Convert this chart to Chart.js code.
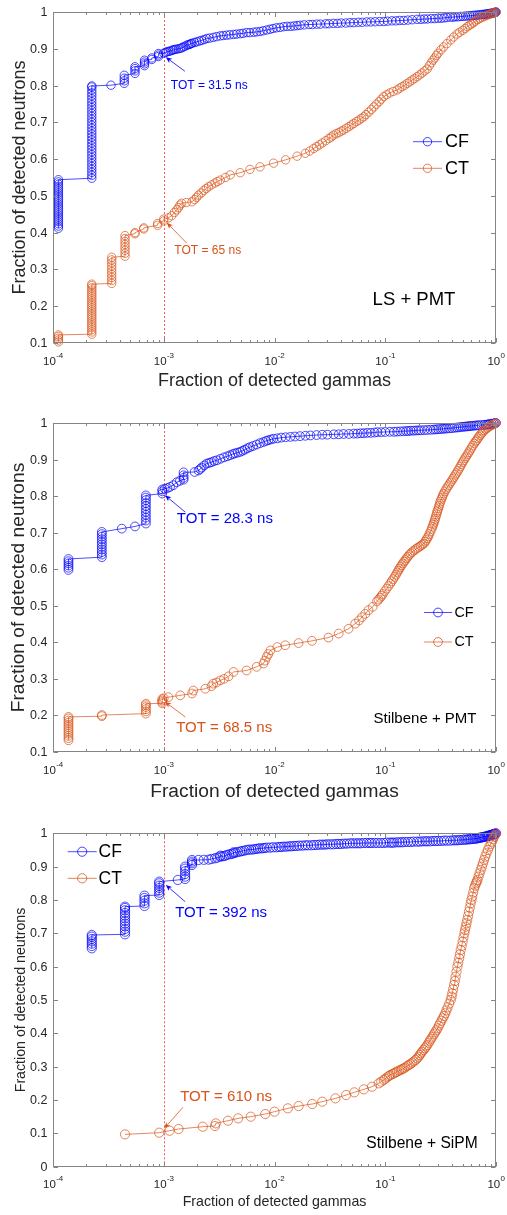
<!DOCTYPE html>
<html>
<head>
<meta charset="utf-8">
<script src="https://cdn.jsdelivr.net/npm/chart.js@4/dist/chart.umd.min.js"></script>
<style>
  html, body { margin: 0; padding: 0; background: #ffffff; }
  #wrap { position: relative; width: 507px; height: 1215px; overflow: hidden; background: #fff; }
  canvas { position: absolute; left: 0; }
</style>
</head>
<body>
<div id="wrap">
  <canvas id="c1" width="507" height="400" style="top:0px"></canvas>
  <canvas id="c2" width="507" height="410" style="top:400px"></canvas>
  <canvas id="c3" width="507" height="405" style="top:810px"></canvas>
</div>
<script>
// ---------------- DATA ----------------
const xTickExps = [-4, -3, -2, -1, 0];
const yTicksA = [0.1, 0.2, 0.3, 0.4, 0.5, 0.6, 0.7, 0.8, 0.9, 1];
const yTickLabelsA = ['0.1', '0.2', '0.3', '0.4', '0.5', '0.6', '0.7', '0.8', '0.9', '1'];
const yTicksC = [0, 0.1, 0.2, 0.3, 0.4, 0.5, 0.6, 0.7, 0.8, 0.9, 1];
const yTickLabelsC = ['0', '0.1', '0.2', '0.3', '0.4', '0.5', '0.6', '0.7', '0.8', '0.9', '1'];
const seriesNames = ['CF', 'CT'];
const panelTags = ['LS + PMT', 'Stilbene + PMT', 'Stilbene + SiPM'];
const totLabels = [['TOT = 31.5 ns', 'TOT = 65 ns'], ['TOT = 28.3 ns', 'TOT = 68.5 ns'], ['TOT = 392 ns', 'TOT = 610 ns']];
const markX = 1e-3;

// Panel 1: LS + PMT   [fraction of gammas, fraction of neutrons]
const lsCF = [
[1.12e-4,0.412],[1.12e-4,0.418],[1.12e-4,0.424],[1.12e-4,0.430],[1.12e-4,0.436],[1.12e-4,0.442],[1.12e-4,0.448],[1.12e-4,0.454],[1.12e-4,0.460],[1.12e-4,0.466],[1.12e-4,0.472],[1.12e-4,0.478],[1.12e-4,0.484],[1.12e-4,0.490],[1.12e-4,0.496],[1.12e-4,0.502],[1.12e-4,0.508],[1.12e-4,0.514],[1.12e-4,0.520],[1.12e-4,0.526],[1.12e-4,0.532],[1.12e-4,0.538],[1.12e-4,0.544],
[2.24e-4,0.548],[2.24e-4,0.556],[2.24e-4,0.564],[2.24e-4,0.572],[2.24e-4,0.580],[2.24e-4,0.588],[2.24e-4,0.596],[2.24e-4,0.604],[2.24e-4,0.612],[2.24e-4,0.620],[2.24e-4,0.628],[2.24e-4,0.636],[2.24e-4,0.644],[2.24e-4,0.652],[2.24e-4,0.660],[2.24e-4,0.668],[2.24e-4,0.676],[2.24e-4,0.684],[2.24e-4,0.692],[2.24e-4,0.700],[2.24e-4,0.708],[2.24e-4,0.716],[2.24e-4,0.724],[2.24e-4,0.732],[2.24e-4,0.740],[2.24e-4,0.748],[2.24e-4,0.756],[2.24e-4,0.764],[2.24e-4,0.772],[2.24e-4,0.780],[2.24e-4,0.788],[2.24e-4,0.796],[2.24e-4,0.799],
[3.34e-4,0.801],
[4.4e-4,0.806],[4.4e-4,0.813],[4.4e-4,0.820],[4.4e-4,0.828],
[5.5e-4,0.833],[5.5e-4,0.840],[5.5e-4,0.846],[5.5e-4,0.851],
[6.7e-4,0.854],[6.7e-4,0.859],[6.7e-4,0.864],[6.7e-4,0.869],
[7.8e-4,0.871],[7.8e-4,0.875],
[8.96e-4,0.879],[8.96e-4,0.883],[8.96e-4,0.887],
[1.0e-3,0.888],[1.04e-3,0.890],[1.07e-3,0.892],[1.11e-3,0.893],[1.15e-3,0.894],[1.19e-3,0.896],[1.22e-3,0.897],[1.26e-3,0.898],[1.3e-3,0.899],[1.36e-3,0.900],[1.41e-3,0.901],[1.46e-3,0.903],[1.5e-3,0.905],[1.56e-3,0.907],[1.62e-3,0.910],[1.67e-3,0.911],[1.72e-3,0.912],[1.76e-3,0.914],[1.8e-3,0.915],[1.9e-3,0.917],[1.99e-3,0.919],[2.1e-3,0.921],[2.2e-3,0.923],[2.32e-3,0.925],[2.45e-3,0.928],[2.6e-3,0.929],[2.8e-3,0.931],[3.0e-3,0.933],[3.24e-3,0.935],[3.45e-3,0.936],[3.7e-3,0.937],[3.95e-3,0.938],[4.27e-3,0.939],[4.55e-3,0.940],[4.9e-3,0.941],[5.2e-3,0.942],[5.6e-3,0.944],[6.0e-3,0.944],[6.5e-3,0.945],[6.9e-3,0.946],[7.4e-3,0.947],[7.9e-3,0.949],[8.5e-3,0.951],[9.1e-3,0.953],[9.7e-3,0.955],[0.0104,0.957],[0.0112,0.958],[0.0121,0.960],[0.013,0.961],[0.014,0.961],[0.015,0.962],[0.016,0.963],[0.017,0.964],[0.0185,0.965],[0.0205,0.966],[0.022,0.966],[0.0241,0.967],[0.026,0.967],[0.029,0.968],[0.031,0.968],[0.034,0.969],[0.037,0.969],[0.040,0.970],[0.044,0.970],[0.048,0.971],[0.052,0.971],[0.057,0.972],[0.062,0.972],[0.068,0.973],[0.074,0.973],[0.081,0.9735],[0.089,0.974],[0.0973,0.974],[0.105,0.975],[0.115,0.976],[0.125,0.976],[0.135,0.977],[0.147,0.977],[0.16,0.978],[0.175,0.979],[0.194,0.980],[0.21,0.980],[0.225,0.981],[0.24,0.981],[0.26,0.982],[0.28,0.982],[0.30,0.983],[0.32,0.983],[0.34,0.984],[0.36,0.985],[0.387,0.986],[0.41,0.986],[0.43,0.987],[0.455,0.987],[0.48,0.988],[0.505,0.988],[0.53,0.989],[0.555,0.989],[0.58,0.990],[0.605,0.990],[0.63,0.991],[0.655,0.991],[0.68,0.992],[0.705,0.992],[0.73,0.993],[0.755,0.993],[0.78,0.994],[0.805,0.994],[0.83,0.995],[0.85,0.995],[0.87,0.996],[0.89,0.996],[0.91,0.997],[0.93,0.997],[0.95,0.998],[0.965,0.998],[0.98,0.999],[0.99,0.999],[1.0,1.0]
];
const lsCT = [
[1.12e-4,0.103],[1.12e-4,0.108],[1.12e-4,0.113],[1.12e-4,0.118],[1.12e-4,0.122],
[2.24e-4,0.124],[2.24e-4,0.130],[2.24e-4,0.136],[2.24e-4,0.142],[2.24e-4,0.148],[2.24e-4,0.154],[2.24e-4,0.160],[2.24e-4,0.166],[2.24e-4,0.172],[2.24e-4,0.178],[2.24e-4,0.184],[2.24e-4,0.190],[2.24e-4,0.196],[2.24e-4,0.202],[2.24e-4,0.208],[2.24e-4,0.214],[2.24e-4,0.220],[2.24e-4,0.226],[2.24e-4,0.232],[2.24e-4,0.238],[2.24e-4,0.244],[2.24e-4,0.250],[2.24e-4,0.256],[2.24e-4,0.260],
[3.39e-4,0.262],[3.39e-4,0.270],[3.39e-4,0.278],[3.39e-4,0.286],[3.39e-4,0.294],[3.39e-4,0.302],[3.39e-4,0.310],[3.39e-4,0.318],[3.39e-4,0.326],[3.39e-4,0.333],
[4.47e-4,0.336],[4.47e-4,0.344],[4.47e-4,0.352],[4.47e-4,0.360],[4.47e-4,0.368],[4.47e-4,0.376],[4.47e-4,0.384],[4.47e-4,0.392],
[5.5e-4,0.397],[5.5e-4,0.400],[6.6e-4,0.410],[6.6e-4,0.413],[8.8e-4,0.420],[8.8e-4,0.425],[1.0e-3,0.432],[1.0e-3,0.437],[1.1e-3,0.440],
[1.18e-3,0.446],[1.25e-3,0.455],[1.31e-3,0.462],[1.36e-3,0.468],[1.4e-3,0.475],[1.45e-3,0.480],[1.6e-3,0.482],[1.8e-3,0.484],[1.9e-3,0.490],[1.98e-3,0.496],[2.06e-3,0.502],[2.18e-3,0.508],[2.3e-3,0.515],[2.42e-3,0.520],[2.54e-3,0.525],[2.7e-3,0.530],[2.9e-3,0.535],[3.05e-3,0.539],[3.24e-3,0.543],[3.6e-3,0.550],[3.98e-3,0.557],[4.9e-3,0.563],[6.0e-3,0.572],[7.4e-3,0.579],[9.8e-3,0.589],[0.0126,0.598],[0.016,0.608],[0.019,0.616],[0.0208,0.622],[0.0226,0.629],[0.024,0.634],[0.0255,0.639],[0.027,0.644],[0.029,0.650],[0.031,0.656],[0.0325,0.660],[0.034,0.665],[0.036,0.669],[0.038,0.672],[0.040,0.676],[0.042,0.679],[0.0445,0.684],[0.047,0.688],[0.0495,0.693],[0.052,0.697],[0.055,0.702],[0.058,0.706],[0.061,0.711],[0.064,0.715],[0.067,0.721],[0.071,0.728],[0.075,0.735],[0.079,0.742],[0.083,0.749],[0.088,0.756],[0.092,0.763],[0.097,0.770],[0.103,0.775],[0.11,0.780],[0.118,0.784],[0.128,0.788],[0.135,0.793],[0.142,0.797],[0.15,0.801],[0.158,0.806],[0.166,0.810],[0.175,0.815],[0.184,0.819],[0.194,0.824],[0.204,0.829],[0.215,0.834],[0.227,0.840],[0.239,0.845],[0.25,0.854],[0.26,0.862],[0.27,0.869],[0.28,0.875],[0.29,0.882],[0.30,0.888],[0.318,0.897],[0.337,0.905],[0.36,0.914],[0.39,0.924],[0.415,0.932],[0.445,0.940],[0.47,0.945],[0.50,0.950],[0.525,0.955],[0.55,0.960],[0.575,0.964],[0.60,0.967],[0.625,0.971],[0.65,0.975],[0.68,0.979],[0.71,0.982],[0.745,0.985],[0.78,0.988],[0.81,0.990],[0.84,0.992],[0.87,0.994],[0.90,0.995],[0.925,0.997],[0.95,0.998],[0.975,0.999],[1.0,1.0]
];

// Panel 2: Stilbene + PMT
const spCF = [
[1.38e-4,0.598],[1.38e-4,0.604],[1.38e-4,0.610],[1.38e-4,0.616],[1.38e-4,0.622],[1.38e-4,0.628],
[2.76e-4,0.633],[2.76e-4,0.640],[2.76e-4,0.647],[2.76e-4,0.654],[2.76e-4,0.661],[2.76e-4,0.668],[2.76e-4,0.675],[2.76e-4,0.682],[2.76e-4,0.689],[2.76e-4,0.696],[2.76e-4,0.702],
[4.18e-4,0.711],[5.5e-4,0.717],
[6.9e-4,0.725],[6.9e-4,0.733],[6.9e-4,0.741],[6.9e-4,0.749],[6.9e-4,0.757],[6.9e-4,0.765],[6.9e-4,0.773],[6.9e-4,0.781],[6.9e-4,0.789],[6.9e-4,0.796],[6.9e-4,0.802],
[9.7e-4,0.807],[9.7e-4,0.813],[9.7e-4,0.818],[1.02e-3,0.820],[1.08e-3,0.822],[1.14e-3,0.825],[1.22e-3,0.830],[1.31e-3,0.838],[1.4e-3,0.842],
[1.51e-3,0.845],[1.51e-3,0.850],[1.51e-3,0.857],[1.51e-3,0.865],[1.9e-3,0.866],[2.06e-3,0.870],[2.13e-3,0.874],[2.2e-3,0.878],[2.32e-3,0.884],[2.45e-3,0.889],[2.58e-3,0.891],[2.7e-3,0.893],[2.85e-3,0.896],[3.02e-3,0.898],[3.25e-3,0.902],[3.5e-3,0.906],[3.75e-3,0.909],[3.98e-3,0.912],[4.2e-3,0.915],[4.4e-3,0.917],[4.65e-3,0.919],[4.9e-3,0.921],[5.15e-3,0.924],[5.4e-3,0.927],[5.7e-3,0.931],[6.0e-3,0.934],[6.4e-3,0.937],[6.9e-3,0.941],[7.4e-3,0.945],[7.95e-3,0.948],[8.4e-3,0.951],[8.8e-3,0.953],[9.3e-3,0.955],[9.8e-3,0.957],[0.0106,0.958],[0.0115,0.960],[0.0126,0.961],[0.0139,0.962],[0.0153,0.963],[0.017,0.964],[0.019,0.965],[0.0211,0.966],[0.024,0.967],[0.027,0.968],[0.030,0.968],[0.0343,0.969],[0.038,0.969],[0.042,0.970],[0.047,0.970],[0.052,0.971],[0.056,0.971],[0.06,0.972],[0.064,0.972],[0.0687,0.973],[0.074,0.973],[0.08,0.974],[0.085,0.975],[0.092,0.975],[0.10,0.9755],[0.11,0.976],[0.12,0.976],[0.128,0.9765],[0.137,0.977],[0.146,0.9775],[0.155,0.978],[0.162,0.978],[0.17,0.979],[0.18,0.979],[0.19,0.9795],[0.20,0.980],[0.21,0.980],[0.225,0.9805],[0.24,0.981],[0.257,0.9815],[0.274,0.982],[0.287,0.9825],[0.30,0.983],[0.315,0.9835],[0.33,0.984],[0.345,0.9845],[0.36,0.985],[0.38,0.9855],[0.40,0.986],[0.42,0.987],[0.44,0.9875],[0.46,0.988],[0.48,0.989],[0.50,0.9895],[0.52,0.990],[0.54,0.9905],[0.56,0.991],[0.58,0.9915],[0.60,0.992],[0.625,0.9925],[0.65,0.993],[0.675,0.9935],[0.70,0.994],[0.74,0.9945],[0.78,0.995],[0.81,0.9955],[0.84,0.996],[0.86,0.9965],[0.88,0.997],[0.915,0.998],[0.95,0.999],[0.975,0.9995],[1.0,1.0]
];
const spCT = [
[1.38e-4,0.132],[1.38e-4,0.138],[1.38e-4,0.144],[1.38e-4,0.150],[1.38e-4,0.156],[1.38e-4,0.162],[1.38e-4,0.168],[1.38e-4,0.174],[1.38e-4,0.180],[1.38e-4,0.186],[1.38e-4,0.192],[1.38e-4,0.196],
[2.76e-4,0.198],[2.76e-4,0.201],
[6.9e-4,0.205],[6.9e-4,0.211],[6.9e-4,0.217],[6.9e-4,0.223],[6.9e-4,0.228],[6.9e-4,0.232],
[9.7e-4,0.233],[9.7e-4,0.237],[9.7e-4,0.241],[9.7e-4,0.245],[1.0e-3,0.247],
[1.1e-3,0.250],[1.41e-3,0.255],[1.8e-3,0.260],[1.85e-3,0.268],[2.37e-3,0.273],[2.7e-3,0.280],[2.8e-3,0.287],[3.0e-3,0.290],[3.24e-3,0.296],[3.5e-3,0.300],[3.85e-3,0.307],[4.27e-3,0.319],[5.6e-3,0.323],[6.9e-3,0.333],[7.95e-3,0.342],[8.2e-3,0.350],[8.5e-3,0.360],[8.8e-3,0.368],[9.2e-3,0.378],[0.0106,0.387],[0.0125,0.392],[0.0165,0.398],[0.0218,0.404],[0.0307,0.413],[0.038,0.424],[0.0466,0.437],[0.0535,0.451],[0.058,0.460],[0.0617,0.469],[0.066,0.478],[0.0706,0.488],[0.077,0.497],
[0.0842,0.512],[0.087,0.517],[0.090,0.522],[0.0925,0.527],[0.095,0.532],[0.099,0.540],[0.103,0.547],[0.107,0.554],[0.111,0.561],[0.1145,0.567],[0.118,0.573],[0.1215,0.579],[0.125,0.585],[0.128,0.591],[0.131,0.596],[0.134,0.601],[0.137,0.606],[0.1405,0.611],[0.144,0.616],[0.148,0.621],[0.152,0.625],[0.156,0.630],[0.16,0.634],[0.1645,0.639],[0.169,0.643],[0.175,0.647],[0.182,0.651],[0.188,0.655],[0.195,0.658],[0.202,0.661],[0.209,0.664],[0.216,0.667],[0.223,0.670],[0.229,0.675],[0.234,0.680],[0.24,0.685],[0.245,0.690],[0.25,0.696],[0.256,0.703],[0.262,0.710],[0.267,0.716],[0.271,0.722],[0.275,0.727],[0.279,0.733],[0.282,0.738],[0.286,0.744],[0.29,0.750],[0.294,0.756],[0.297,0.761],[0.302,0.767],[0.306,0.773],[0.31,0.779],[0.315,0.785],[0.32,0.791],[0.326,0.796],[0.331,0.802],[0.337,0.807],[0.346,0.813],[0.355,0.819],[0.365,0.825],[0.375,0.830],[0.385,0.836],[0.396,0.841],[0.407,0.847],[0.418,0.852],[0.429,0.858],[0.44,0.863],[0.452,0.869],[0.465,0.875],[0.476,0.881],[0.488,0.887],[0.50,0.893],[0.513,0.898],[0.526,0.904],[0.54,0.909],[0.555,0.915],[0.57,0.920],[0.585,0.926],[0.60,0.932],[0.618,0.938],[0.636,0.944],[0.653,0.949],[0.67,0.953],[0.685,0.958],[0.70,0.962],[0.72,0.967],[0.74,0.971],[0.76,0.976],[0.78,0.980],[0.805,0.983],[0.83,0.986],[0.855,0.989],[0.88,0.992],[0.91,0.994],[0.94,0.996],[0.97,0.998],[1.0,1.0]
];

// Panel 3: Stilbene + SiPM
const ssCF = [
[2.24e-4,0.655],[2.24e-4,0.662],[2.24e-4,0.669],[2.24e-4,0.676],[2.24e-4,0.683],[2.24e-4,0.690],[2.24e-4,0.695],
[4.47e-4,0.697],[4.47e-4,0.705],[4.47e-4,0.713],[4.47e-4,0.721],[4.47e-4,0.729],[4.47e-4,0.737],[4.47e-4,0.745],[4.47e-4,0.753],[4.47e-4,0.761],[4.47e-4,0.769],[4.47e-4,0.776],[4.47e-4,0.780],
[6.7e-4,0.782],[6.7e-4,0.790],[6.7e-4,0.798],[6.7e-4,0.806],[6.7e-4,0.813],
[9.1e-4,0.815],[9.1e-4,0.822],[9.1e-4,0.829],[9.1e-4,0.836],[9.1e-4,0.843],[9.1e-4,0.850],[9.1e-4,0.855],
[1.34e-3,0.860],
[1.56e-3,0.863],[1.56e-3,0.870],[1.56e-3,0.878],[1.56e-3,0.886],[1.56e-3,0.894],[1.56e-3,0.900],
[1.8e-3,0.905],[1.8e-3,0.910],[1.8e-3,0.915],[1.8e-3,0.920],
[2.06e-3,0.920],[2.3e-3,0.9205],[2.54e-3,0.921],[2.7e-3,0.923],[2.9e-3,0.925],[3.05e-3,0.927],[3.24e-3,0.930],[3.24e-3,0.933],[3.4e-3,0.931],[3.55e-3,0.932],[3.7e-3,0.935],[3.9e-3,0.937],[4.1e-3,0.938],[4.27e-3,0.940],[4.27e-3,0.943],[4.45e-3,0.942],[4.65e-3,0.944],[4.9e-3,0.945],[5.1e-3,0.947],[5.35e-3,0.948],[5.6e-3,0.950],[5.9e-3,0.951],[6.2e-3,0.951],[6.5e-3,0.952],[6.8e-3,0.953],[7.1e-3,0.954],[7.4e-3,0.955],[7.8e-3,0.955],[8.1e-3,0.956],[8.5e-3,0.957],[9.1e-3,0.957],[9.7e-3,0.958],[0.0104,0.958],[0.011,0.959],[0.0115,0.959],[0.0121,0.960],[0.0128,0.960],[0.0135,0.961],[0.0142,0.961],[0.015,0.962],[0.0158,0.962],[0.0167,0.963],[0.0178,0.963],[0.019,0.964],[0.020,0.964],[0.0215,0.964],[0.0227,0.965],[0.0241,0.965],[0.0255,0.966],[0.027,0.966],[0.0285,0.966],[0.030,0.967],[0.032,0.967],[0.034,0.967],[0.036,0.968],[0.038,0.968],[0.040,0.968],[0.0425,0.969],[0.045,0.969],[0.048,0.970],[0.051,0.970],[0.054,0.970],[0.057,0.970],[0.060,0.970],[0.064,0.971],[0.068,0.971],[0.072,0.971],[0.075,0.971],[0.080,0.971],[0.085,0.971],[0.091,0.971],[0.097,0.971],[0.103,0.972],[0.11,0.972],[0.115,0.972],[0.12,0.972],[0.128,0.973],[0.135,0.973],[0.142,0.973],[0.15,0.974],[0.16,0.974],[0.17,0.974],[0.18,0.975],[0.194,0.975],[0.205,0.975],[0.217,0.976],[0.23,0.976],[0.24,0.976],[0.255,0.976],[0.27,0.977],[0.285,0.977],[0.30,0.977],[0.32,0.977],[0.34,0.978],[0.36,0.978],[0.387,0.978],[0.41,0.979],[0.43,0.979],[0.45,0.979],[0.47,0.980],[0.495,0.980],[0.52,0.981],[0.54,0.981],[0.56,0.982],[0.58,0.982],[0.60,0.983],[0.62,0.983],[0.64,0.984],[0.66,0.984],[0.68,0.985],[0.70,0.986],[0.715,0.987],[0.73,0.987],[0.75,0.988],[0.765,0.989],[0.78,0.989],[0.80,0.990],[0.82,0.991],[0.835,0.992],[0.85,0.992],[0.865,0.993],[0.88,0.994],[0.895,0.995],[0.91,0.995],[0.925,0.996],[0.94,0.997],[0.955,0.998],[0.97,0.998],[0.985,0.999],[1.0,1.0]
];
const ssCT = [
[4.47e-4,0.097],[9.1e-4,0.102],[1.13e-3,0.108],[1.36e-3,0.113],[2.25e-3,0.120],[2.9e-3,0.122],[2.95e-3,0.130],[3.8e-3,0.138],[4.7e-3,0.145],[6.1e-3,0.150],[8.25e-3,0.158],[0.010,0.165],[0.0132,0.175],[0.0165,0.182],[0.0219,0.188],[0.027,0.195],[0.0355,0.205],[0.0443,0.215],[0.0526,0.223],[0.064,0.232],[0.076,0.240],
[0.0873,0.250],[0.092,0.255],[0.097,0.260],[0.100,0.264],[0.104,0.268],[0.108,0.272],[0.111,0.275],[0.116,0.278],[0.12,0.280],[0.124,0.283],[0.128,0.285],[0.133,0.288],[0.138,0.290],[0.142,0.293],[0.147,0.295],[0.152,0.298],[0.158,0.302],[0.163,0.305],[0.169,0.308],[0.175,0.312],[0.181,0.316],[0.188,0.320],[0.194,0.325],[0.20,0.330],[0.205,0.335],[0.21,0.340],[0.215,0.345],[0.222,0.350],[0.228,0.355],[0.234,0.360],[0.24,0.365],[0.247,0.372],[0.253,0.378],[0.26,0.384],[0.267,0.390],[0.275,0.397],[0.282,0.403],[0.29,0.409],[0.297,0.415],[0.305,0.423],[0.313,0.430],[0.322,0.438],[0.33,0.445],[0.339,0.452],[0.348,0.460],[0.357,0.469],[0.366,0.478],[0.378,0.489],[0.39,0.500],[0.397,0.510],[0.403,0.520],[0.41,0.532],[0.418,0.545],[0.425,0.557],[0.432,0.570],[0.44,0.585],[0.448,0.600],[0.456,0.612],[0.465,0.625],[0.472,0.637],[0.48,0.650],[0.49,0.662],[0.50,0.675],[0.509,0.688],[0.518,0.700],[0.525,0.710],[0.533,0.720],[0.541,0.730],[0.55,0.740],[0.56,0.752],[0.57,0.765],[0.58,0.777],[0.59,0.790],[0.60,0.800],[0.61,0.810],[0.622,0.822],[0.635,0.835],[0.647,0.843],[0.66,0.850],[0.67,0.855],[0.68,0.860],[0.695,0.870],[0.71,0.880],[0.727,0.890],[0.745,0.900],[0.762,0.910],[0.78,0.920],[0.80,0.930],[0.82,0.940],[0.845,0.950],[0.87,0.960],[0.895,0.968],[0.92,0.975],[0.94,0.982],[0.96,0.990],[0.98,0.995],[1.0,1.0]
];

// ---------------- STYLE / LAYOUT ----------------
const FONT = '"Liberation Sans", Arial, Helvetica, sans-serif';
const BLUE = '#0000ff', ORANGE = '#d95319';
const AXIS = '#858585', TXT = '#262626';

const panels = [
  { id: 'c1', pad: { left: 53, right: 11, top: 12, bottom: 57 }, yMin: 0.1, yTicks: yTicksA, yLabels: yTickLabelsA,
    series: [lsCF, lsCT], r: 4.2,
    xTitle: { size: 18, dy: 43 }, yTitle: { size: 18, x: 25 },
    legend: { x0: 413, x1: 442, tx: 445, rows: [141.7, 168.3], size: 18 },
    tag: { text: panelTags[0], cx: 414, y: 300, size: 18.5 },
    tot: [
      { text: totLabels[0][0], color: BLUE, tip: [1.045e-3, 0.877], tail: [19, 14], txt: [5, 28], size: 12 },
      { text: totLabels[0][1], color: ORANGE, tip: [1.066e-3, 0.427], tail: [20, 20.5], txt: [7.5, 28], size: 12 }
    ] },
  { id: 'c2', pad: { left: 53, right: 11, top: 23, bottom: 58 }, yMin: 0.1, yTicks: yTicksA, yLabels: yTickLabelsA,
    series: [spCF, spCT], r: 4.4,
    xTitle: { size: 19.2, dy: 44.8 }, yTitle: { size: 19.2, x: 24 },
    legend: { x0: 424, x1: 452, tx: 454.5, rows: [212.5, 242], size: 14.3 },
    tag: { text: panelTags[1], cx: 425, y: 319, size: 15 },
    tot: [
      { text: totLabels[1][0], color: BLUE, tip: [1.03e-3, 0.802], tail: [20, 16.7], txt: [11.7, 23.3], size: 15 },
      { text: totLabels[1][1], color: ORANGE, tip: [1.03e-3, 0.237], tail: [20, 15], txt: [11, 26], size: 15 }
    ] },
  { id: 'c3', pad: { left: 53, right: 11, top: 23.3, bottom: 48.3 }, yMin: 0, yTicks: yTicksC, yLabels: yTickLabelsC,
    series: [ssCF, ssCT], r: 4.6,
    xTitle: { size: 14.2, dy: 39 }, yTitle: { size: 14.2, x: 25 },
    legend: { x0: 67.7, x1: 96.7, tx: 98.5, rows: [41.7, 68.3], size: 17.5 },
    tag: { text: panelTags[2], cx: 422, y: 333.3, size: 15.6 },
    tot: [
      { text: totLabels[2][0], color: BLUE, tip: [1.045e-3, 0.845], tail: [19.3, 16.7], txt: [9.3, 28.3], size: 15 },
      { text: totLabels[2][1], color: ORANGE, tip: [1.01e-3, 0.115], tail: [18.7, -21], txt: [16, -31.6], size: 15 }
    ] }
];

function arrow(ctx, x1, y1, x2, y2, color) {
  const ang = Math.atan2(y2 - y1, x2 - x1);
  const hl = 6, hw = 2.6;
  ctx.strokeStyle = color; ctx.fillStyle = color; ctx.lineWidth = 0.8;
  ctx.beginPath(); ctx.moveTo(x1, y1);
  ctx.lineTo(x2 - Math.cos(ang) * hl * 0.8, y2 - Math.sin(ang) * hl * 0.8); ctx.stroke();
  ctx.beginPath();
  ctx.moveTo(x2, y2);
  ctx.lineTo(x2 - Math.cos(ang) * hl + Math.sin(ang) * hw, y2 - Math.sin(ang) * hl - Math.cos(ang) * hw);
  ctx.lineTo(x2 - Math.cos(ang) * hl * 0.75, y2 - Math.sin(ang) * hl * 0.75);
  ctx.lineTo(x2 - Math.cos(ang) * hl - Math.sin(ang) * hw, y2 - Math.sin(ang) * hl + Math.cos(ang) * hw);
  ctx.closePath(); ctx.fill();
}

function makePlugin(cfg) {
  return {
    id: 'matlabAxes_' + cfg.id,
    beforeDatasetsDraw(chart) {
      const { ctx, chartArea: a, scales: { x } } = chart;
      ctx.save();
      ctx.strokeStyle = 'rgba(255,70,70,0.9)';
      ctx.lineWidth = 1;
      ctx.setLineDash([2, 2]);
      const px = Math.round(x.getPixelForValue(markX)) + 0.5;
      ctx.beginPath(); ctx.moveTo(px, a.top); ctx.lineTo(px, a.bottom); ctx.stroke();
      ctx.restore();
    },
    afterDatasetsDraw(chart) {
      const { ctx, chartArea: a, scales: { x, y } } = chart;
      ctx.save();
      const L = Math.round(a.left) + 0.5, R = Math.round(a.right) - 0.5;
      const T = Math.round(a.top) + 0.5, B = Math.round(a.bottom) - 0.5;
      ctx.strokeStyle = AXIS; ctx.lineWidth = 1;
      ctx.strokeRect(L, T, R - L, B - T);
      ctx.beginPath();
      xTickExps.forEach((e, i) => {
        const px = Math.round(x.getPixelForValue(Math.pow(10, e))) + 0.5;
        ctx.moveTo(px, B); ctx.lineTo(px, B - 4.5);
        ctx.moveTo(px, T); ctx.lineTo(px, T + 4.5);
        if (i < xTickExps.length - 1) {
          for (let k = 2; k <= 9; k++) {
            const mx = Math.round(x.getPixelForValue(k * Math.pow(10, e))) + 0.5;
            ctx.moveTo(mx, B); ctx.lineTo(mx, B - 2.5);
            ctx.moveTo(mx, T); ctx.lineTo(mx, T + 2.5);
          }
        }
      });
      cfg.yTicks.forEach(v => {
        const py = Math.round(y.getPixelForValue(v)) + 0.5;
        ctx.moveTo(L, py); ctx.lineTo(L + 4.5, py);
        ctx.moveTo(R, py); ctx.lineTo(R - 4.5, py);
      });
      ctx.stroke();

      ctx.fillStyle = TXT; ctx.textBaseline = 'alphabetic'; ctx.textAlign = 'left';
      xTickExps.forEach(e => {
        const cx = x.getPixelForValue(Math.pow(10, e));
        const ex = e === 0 ? '0' : '-' + Math.abs(e);
        ctx.font = `11.5px ${FONT}`; const w1 = ctx.measureText('10').width;
        ctx.font = `8px ${FONT}`; const w2 = ctx.measureText(ex).width;
        const sx = cx - (w1 + w2) / 2;
        ctx.font = `11.5px ${FONT}`; ctx.fillText('10', sx, a.bottom + 21.5);
        ctx.font = `8px ${FONT}`; ctx.fillText(ex, sx + w1 + 0.3, a.bottom + 14.5);
      });
      ctx.font = `12.5px ${FONT}`; ctx.textAlign = 'right'; ctx.textBaseline = 'middle';
      cfg.yTicks.forEach((v, i) => {
        ctx.fillText(cfg.yLabels[i], a.left - 5.5, y.getPixelForValue(v) + 0.5);
      });
      ctx.textAlign = 'center'; ctx.textBaseline = 'alphabetic';
      ctx.font = `${cfg.xTitle.size}px ${FONT}`;
      ctx.fillText('Fraction of detected gammas', (a.left + a.right) / 2, a.bottom + cfg.xTitle.dy);
      ctx.save();
      ctx.translate(cfg.yTitle.x, (a.top + a.bottom) / 2);
      ctx.rotate(-Math.PI / 2);
      ctx.font = `${cfg.yTitle.size}px ${FONT}`;
      ctx.fillText('Fraction of detected neutrons', 0, 0);
      ctx.restore();

      cfg.tot.forEach(t => {
        const tx = x.getPixelForValue(t.tip[0]), ty = y.getPixelForValue(t.tip[1]);
        arrow(ctx, tx + t.tail[0], ty + t.tail[1], tx, ty, t.color);
        ctx.fillStyle = t.color; ctx.font = `${t.size}px ${FONT}`;
        ctx.textAlign = 'left'; ctx.textBaseline = 'middle';
        ctx.fillText(t.text, tx + t.txt[0], ty + t.txt[1]);
      });

      ctx.fillStyle = '#000'; ctx.font = `${cfg.tag.size}px ${FONT}`;
      ctx.textAlign = 'center'; ctx.textBaseline = 'middle';
      ctx.fillText(cfg.tag.text, cfg.tag.cx, cfg.tag.y);

      const lg = cfg.legend;
      [BLUE, ORANGE].forEach((c, i) => {
        const ly = lg.rows[i];
        ctx.strokeStyle = c; ctx.lineWidth = 0.7;
        ctx.beginPath(); ctx.moveTo(lg.x0, ly); ctx.lineTo(lg.x1, ly); ctx.stroke();
        ctx.lineWidth = 0.75;
        ctx.beginPath(); ctx.arc((lg.x0 + lg.x1) / 2, ly, cfg.r, 0, Math.PI * 2); ctx.stroke();
        ctx.fillStyle = '#000'; ctx.font = `${lg.size}px ${FONT}`;
        ctx.textAlign = 'left'; ctx.textBaseline = 'middle';
        ctx.fillText(seriesNames[i], lg.tx, ly + 0.5);
      });
      ctx.restore();
    }
  };
}

function makeDataset(pts, i, r) {
  const color = i === 0 ? BLUE : ORANGE;
  return {
    label: seriesNames[i],
    data: pts.map(([px, py]) => ({ x: px, y: py })),
    showLine: true,
    borderColor: color,
    borderWidth: 0.7,
    pointRadius: r,
    pointHoverRadius: r,
    pointBorderWidth: 0.7,
    pointBorderColor: color,
    pointBackgroundColor: 'rgba(0,0,0,0)',
    pointStyle: 'circle',
    fill: false,
    tension: 0,
    clip: false,
    order: i === 0 ? 2 : 1
  };
}

panels.forEach(cfg => {
  const canvas = document.getElementById(cfg.id);
  new Chart(canvas.getContext('2d'), {
    type: 'scatter',
    data: { datasets: cfg.series.map((s, i) => makeDataset(s, i, cfg.r)) },
    options: {
      responsive: false,
      devicePixelRatio: 1,
      animation: false,
      events: [],
      layout: { padding: cfg.pad },
      plugins: { legend: { display: false }, tooltip: { enabled: false }, title: { display: false } },
      scales: {
        x: { type: 'logarithmic', min: 1e-4, max: 1, display: false },
        y: { type: 'linear', min: cfg.yMin, max: 1, display: false }
      }
    },
    plugins: [makePlugin(cfg)]
  });
});
</script>
</body>
</html>
